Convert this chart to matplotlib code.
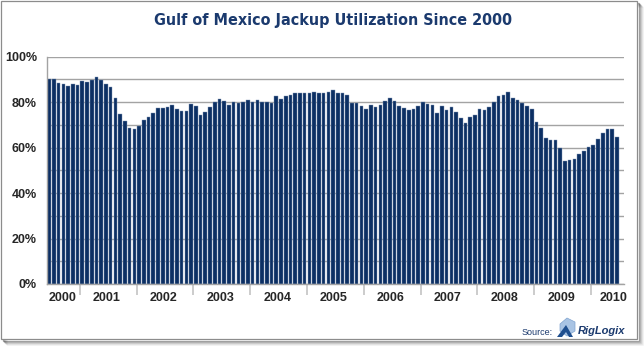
#!/usr/bin/env python
# -*- coding: utf-8 -*-

"""
Gulf of Mexico jackup utilization since 2000 (monthly bars).
"""

# Third party modules.
import matplotlib
matplotlib.use("Agg")
import matplotlib.pyplot as plt
from matplotlib.patches import Rectangle, Polygon
from matplotlib.ticker import FixedLocator, PercentFormatter
from matplotlib import font_manager

# Globals and constants variables.
W_PX, H_PX = 644, 346

# monthly utilization (%), Jun 2000 .. Jun 2010
util_2000 = [90.0, 90.0, 88.6, 88.1, 87.2, 88.1, 87.7]
util_2001 = [89.4, 89.0, 89.9, 91.2, 89.9, 87.8, 86.8, 81.6, 74.8, 71.7, 68.7, 68.3]
util_2002 = [69.7, 72.0, 73.3, 75.1, 77.2, 77.2, 77.7, 78.7, 76.8, 75.9, 75.9, 79.1]
util_2003 = [78.1, 74.3, 75.7, 77.7, 80.1, 81.2, 80.3, 78.7, 80.2, 79.4, 80.0, 80.7]
util_2004 = [80.1, 80.7, 80.1, 80.1, 79.6, 82.5, 81.4, 82.5, 83.3, 83.8, 83.8, 83.8]
util_2005 = [83.8, 84.6, 84.2, 84.2, 84.6, 85.1, 83.8, 84.2, 82.9, 79.6, 79.6, 78.1]
util_2006 = [76.8, 78.7, 77.7, 78.7, 80.3, 81.6, 80.3, 78.3, 77.2, 76.4, 76.8, 78.1]
util_2007 = [79.9, 79.1, 78.6, 75.2, 78.1, 76.4, 77.7, 75.5, 72.9, 70.9, 73.3, 74.2]
util_2008 = [76.8, 76.4, 77.7, 79.9, 82.5, 82.9, 84.6, 81.6, 80.7, 79.6, 78.1, 76.8]
util_2009 = [71.3, 68.6, 64.2, 63.3, 63.3, 59.6, 53.9, 54.5, 54.9, 57.0, 58.3, 60.3]
util_2010 = [61.3, 63.8, 66.4, 68.1, 68.1, 64.6]

years = ["2000", "2001", "2002", "2003", "2004",
         "2005", "2006", "2007", "2008", "2009", "2010"]

title = "Gulf of Mexico Jackup Utilization Since 2000"

NAVY = "#0c2f63"
TITLE_COLOR = "#1b3a6e"
GRID = "#a3a3a3"

STRETCH_RANK = {"ultra-condensed": 0, "extra-condensed": 1, "condensed": 2,
                "semi-condensed": 3, 500: 0, 625: 1, 750: 2, 875: 3}


def px(x, y):
    return x / W_PX, 1.0 - y / H_PX


def condensedTitleFont():
    # most condensed bold face installed (not CJK)
    best = None
    for f in font_manager.fontManager.ttflist:
        name = f.name.lower()
        if "cjk" in name or f.weight not in ("bold", 700) or f.style != "normal":
            continue
        rank = STRETCH_RANK.get(f.stretch)
        if rank is None and ("condensed" in name or "narrow" in name):
            rank = 2
        if rank is None:
            continue
        if best is None or rank < best[0]:
            best = (rank, f.name, f.stretch)
    if best is None:
        return "Liberation Sans", "normal"
    return best[1], best[2]


def runChart():
    series = [util_2000, util_2001, util_2002, util_2003, util_2004, util_2005,
              util_2006, util_2007, util_2008, util_2009, util_2010]
    values = [v for s in series for v in s]
    positions = list(range(len(values)))

    # year boundaries and label positions, in bar units
    counts = [len(s) for s in series]
    bounds = []
    total = 0
    for n in counts[:-1]:
        total += n
        bounds.append(total - 0.5)
    label_pos = [2.8] + [b + 5.7 for b in bounds[:-1]] + [119.2]

    fig = plt.figure(figsize=(W_PX / 100, H_PX / 100), dpi=100)
    fig.patch.set_facecolor("white")

    left, bottom = px(46.7, 284)
    right, top = px(624, 56.6)
    ax = fig.add_axes([left, bottom, right - left, top - bottom])

    ax.bar(positions, values, width=0.76, color=NAVY,
           edgecolor="#7f95b5", linewidth=0.3, zorder=3)

    ax.set_xlim(-0.52, 121.5)
    ax.set_ylim(0, 100)

    ax.yaxis.set_major_locator(FixedLocator(range(0, 101, 20)))
    ax.yaxis.set_minor_locator(FixedLocator(range(10, 100, 20)))
    ax.yaxis.set_major_formatter(PercentFormatter(decimals=0))
    ax.grid(axis="y", which="both", color=GRID, linewidth=1.0, zorder=0)
    ax.tick_params(axis="y", which="both", length=0, pad=7)

    ax.xaxis.set_major_locator(FixedLocator(bounds))
    ax.xaxis.set_minor_locator(FixedLocator(label_pos))
    ax.set_xticklabels([], minor=False)
    ax.set_xticklabels(years, minor=True)
    ax.tick_params(axis="x", which="major", length=8, width=1.3,
                   color="#c8c8c8")
    ax.tick_params(axis="x", which="minor", length=0, pad=6)

    for lab in ax.get_yticklabels() + ax.get_xticklabels(minor=True):
        lab.set_fontfamily(["Liberation Sans", "DejaVu Sans"])
        lab.set_fontsize(9)
        lab.set_fontweight("bold")
        lab.set_color("#262626")

    for side in ("top", "right"):
        ax.spines[side].set_visible(False)
    for side in ("left", "bottom"):
        ax.spines[side].set_color(GRID)
        ax.spines[side].set_linewidth(1.0)
        ax.spines[side].set_zorder(4)

    fam, stretch = condensedTitleFont()
    tx, ty = px(333.5, 21)
    t = fig.text(tx, ty, title, ha="center", va="center", fontsize=13,
                 fontweight="bold", fontstretch=stretch, color=TITLE_COLOR,
                 family=[fam, "DejaVu Sans"])
    # fit the title to the width it has in the picture
    renderer = fig.canvas.get_renderer()
    width = t.get_window_extent(renderer).width
    t.set_fontsize(min(15.0, 13 * 357.0 / width))

    # source line
    sx, sy = px(521.5, 332.5)
    fig.text(sx, sy, "Source:", ha="left", va="center", fontsize=6.5,
             color=TITLE_COLOR, family=["Liberation Sans", "DejaVu Sans"])
    lx, ly = px(577.5, 331.5)
    fig.text(lx, ly, "RigLogix", ha="left", va="center", fontsize=8,
             fontweight="bold", fontstyle="italic", color=TITLE_COLOR,
             family=["Liberation Sans", "DejaVu Sans"])

    # small logo: light cube with a navy arrow shape
    cube = [px(560, 324), px(567, 318), px(575, 322), px(575, 331),
            px(567, 336), px(560, 331)]
    fig.patches.append(Polygon(cube, closed=True, transform=fig.transFigure,
                               facecolor="#a9c4e4", edgecolor="#7fa3cf",
                               linewidth=0.5))
    arrow = [px(557, 337), px(566, 325), px(573, 337), px(569, 337),
             px(566, 332), px(562, 337)]
    fig.patches.append(Polygon(arrow, closed=True, transform=fig.transFigure,
                               facecolor="#1f4f8f", edgecolor="none"))

    # framed screenshot look: border plus drop shadow
    for i, a in enumerate([0.35, 0.25, 0.16, 0.09, 0.04]):
        x0, y1 = px(1 + i + 2, 339 + i + 2)
        x1, y0 = px(637 + i + 2, 1 + i + 2)
        fig.patches.append(Rectangle((x0, y1), x1 - x0, y0 - y1,
                                     transform=fig.transFigure, fill=False,
                                     edgecolor="black", alpha=a,
                                     linewidth=0.9, zorder=-2))
    x0, y1 = px(1, 339)
    x1, y0 = px(637, 1)
    fig.patches.append(Rectangle((x0, y1), x1 - x0, y0 - y1,
                                 transform=fig.transFigure, facecolor="white",
                                 edgecolor="#8c8c8c", linewidth=0.9,
                                 zorder=-1))

    fig.savefig("out.png", dpi=100, facecolor="white")


if __name__ == '__main__':
    runChart()
